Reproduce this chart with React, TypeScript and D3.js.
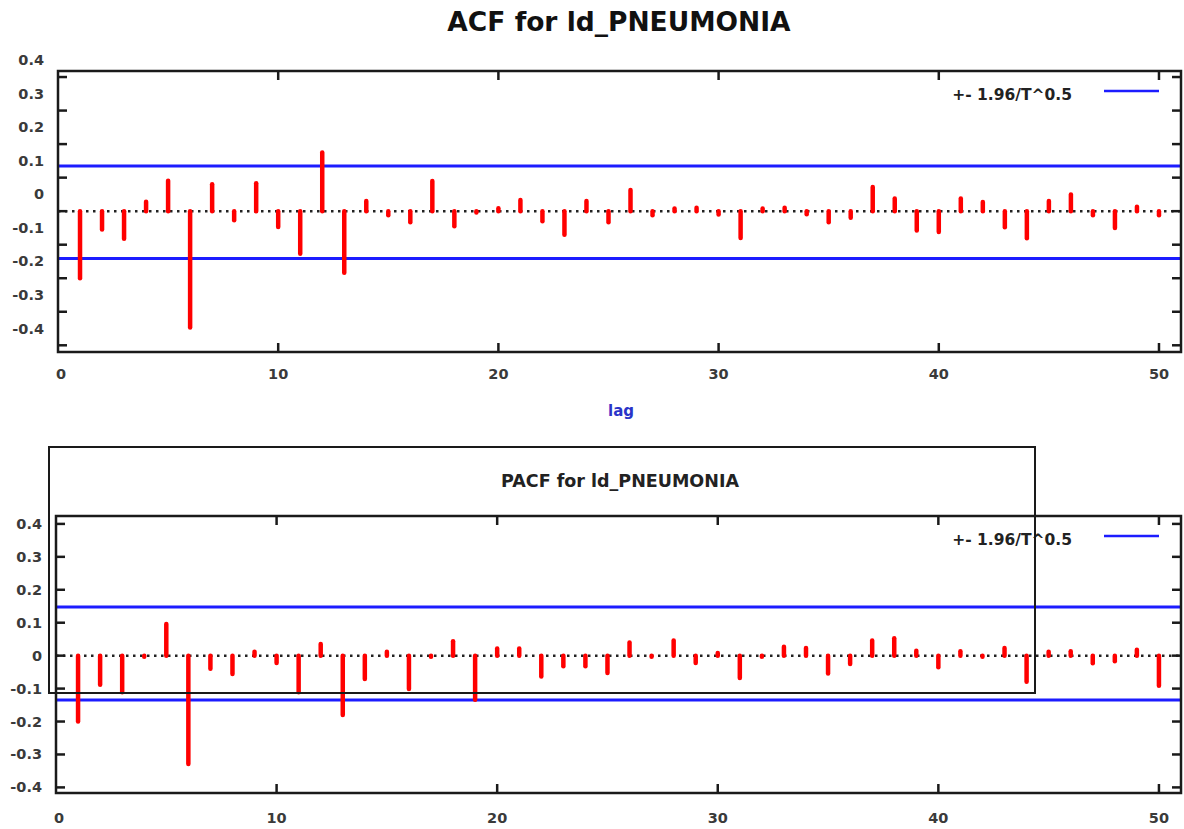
import React, { useRef, useEffect } from "react";
import * as d3 from "d3";

// lags 1..50, values
const lags = d3.range(1, 51);

const acfValues = [
  -0.2, -0.055, -0.082, 0.028, 0.091, -0.347, 0.08, -0.027, 0.083, -0.047,
  -0.127, 0.175, -0.184, 0.03, -0.012, -0.033, 0.09, -0.045, -0.004, 0.009,
  0.033, -0.03, -0.07, 0.03, -0.033, 0.063, -0.012, 0.008, 0.01, -0.01,
  -0.08, 0.008, 0.01, -0.009, -0.033, -0.02, 0.072, 0.038, -0.058, -0.062,
  0.038, 0.027, -0.048, -0.081, 0.03, 0.05, -0.012, -0.05, 0.013, -0.012,
];

const pacfValues = [
  -0.2, -0.088, -0.111, -0.003, 0.096, -0.329, -0.04, -0.056, 0.012, -0.022,
  -0.111, 0.035, -0.18, -0.071, 0.012, -0.101, -0.003, 0.044, -0.134, 0.022,
  0.022, -0.063, -0.032, -0.032, -0.053, 0.04, -0.003, 0.046, -0.022, 0.008,
  -0.068, -0.003, 0.027, 0.023, -0.054, -0.025, 0.046, 0.053, 0.015, -0.035,
  0.013, -0.003, 0.023, -0.079, 0.012, 0.013, -0.023, -0.017, 0.018, -0.091,
];

// +- 1.96/T^0.5 bands (as drawn)
const acfBand = [0.135, -0.141];
const pacfBand = [0.148, -0.135];

const yTicks = [0.4, 0.3, 0.2, 0.1, 0, -0.1, -0.2, -0.3, -0.4];
const xTicks = [0, 10, 20, 30, 40, 50];

const acfTitle = "ACF for ld_PNEUMONIA";
const pacfTitle = "PACF for ld_PNEUMONIA";
const legendLabel = "+- 1.96/T^0.5";
const xLabel = "lag";

const FONT = "'DejaVu Sans', Verdana, sans-serif";

function drawPanel(svg, opts) {
  const { values, band, left, right, top, bottom, yDomain, labelShift, tickLabelY, legendY } = opts;

  const x = d3.scaleLinear().domain([0, 51]).range([left, right]);
  const y = d3.scaleLinear().domain(yDomain).range([bottom, top]);

  const g = svg.append("g");

  // zero line (dotted)
  g.append("line")
    .attr("x1", left)
    .attr("x2", right)
    .attr("y1", y(0))
    .attr("y2", y(0))
    .attr("stroke", "#222")
    .attr("stroke-width", 2.5)
    .attr("stroke-dasharray", "2.5,4.5");

  // confidence bands
  g.selectAll(".band")
    .data(band)
    .enter()
    .append("line")
    .attr("x1", left)
    .attr("x2", right)
    .attr("y1", (d) => y(d))
    .attr("y2", (d) => y(d))
    .attr("stroke", "#1c1cff")
    .attr("stroke-width", 3);

  // stems
  g.selectAll(".stem")
    .data(values)
    .enter()
    .append("line")
    .attr("x1", (d, i) => x(lags[i]))
    .attr("x2", (d, i) => x(lags[i]))
    .attr("y1", y(0))
    .attr("y2", (d) => y(d))
    .attr("stroke", "#ff0000")
    .attr("stroke-width", 4.5)
    .attr("stroke-linecap", "round");

  // frame
  g.append("rect")
    .attr("x", left)
    .attr("y", top)
    .attr("width", right - left)
    .attr("height", bottom - top)
    .attr("fill", "none")
    .attr("stroke", "#1a1a1a")
    .attr("stroke-width", 2.5);

  // y ticks, both sides, inward
  const tl = 9;
  yTicks.forEach((t) => {
    g.append("line")
      .attr("x1", left).attr("x2", left + tl)
      .attr("y1", y(t)).attr("y2", y(t))
      .attr("stroke", "#1a1a1a").attr("stroke-width", 2.5);
    g.append("line")
      .attr("x1", right).attr("x2", right - tl)
      .attr("y1", y(t)).attr("y2", y(t))
      .attr("stroke", "#1a1a1a").attr("stroke-width", 2.5);
  });

  g.selectAll(".ylab")
    .data(yTicks)
    .enter()
    .append("text")
    .attr("x", left - 14)
    .attr("y", (d) => y(d + labelShift))
    .attr("text-anchor", "end")
    .attr("dominant-baseline", "central")
    .attr("font-family", FONT)
    .attr("font-weight", "bold")
    .attr("font-size", 14.5)
    .attr("fill", "#3a3a3a")
    .text((d) => String(d));

  // x ticks, top and bottom, inward
  xTicks.slice(1).forEach((t) => {
    g.append("line")
      .attr("x1", x(t)).attr("x2", x(t))
      .attr("y1", bottom).attr("y2", bottom - tl)
      .attr("stroke", "#1a1a1a").attr("stroke-width", 2.5);
    g.append("line")
      .attr("x1", x(t)).attr("x2", x(t))
      .attr("y1", top).attr("y2", top + tl)
      .attr("stroke", "#1a1a1a").attr("stroke-width", 2.5);
  });

  g.selectAll(".xlab")
    .data(xTicks)
    .enter()
    .append("text")
    .attr("x", (d) => x(d) + (d === 0 ? 3 : 0))
    .attr("y", tickLabelY)
    .attr("text-anchor", "middle")
    .attr("dominant-baseline", "central")
    .attr("font-family", FONT)
    .attr("font-weight", "bold")
    .attr("font-size", 14.5)
    .attr("fill", "#3a3a3a")
    .text((d) => String(d));

  // legend
  g.append("text")
    .attr("x", right - 109)
    .attr("y", legendY + 4)
    .attr("text-anchor", "end")
    .attr("dominant-baseline", "central")
    .attr("font-family", FONT)
    .attr("font-weight", "bold")
    .attr("font-size", 15.5)
    .attr("fill", "#222")
    .text(legendLabel);
  g.append("line")
    .attr("x1", right - 77)
    .attr("x2", right - 22)
    .attr("y1", legendY)
    .attr("y2", legendY)
    .attr("stroke", "#1c1cff")
    .attr("stroke-width", 2.5);
}

export default function App() {
  const ref = useRef(null);

  useEffect(() => {
    const svg = d3.select(ref.current);
    svg.selectAll("*").remove();

    svg.append("rect").attr("width", 1184).attr("height", 829).attr("fill", "#fff");

    // top: ACF
    svg.append("text")
      .attr("x", 619)
      .attr("y", 21)
      .attr("text-anchor", "middle")
      .attr("dominant-baseline", "central")
      .attr("font-family", FONT)
      .attr("font-weight", "bold")
      .attr("font-size", 26.5)
      .attr("fill", "#111")
      .text(acfTitle);

    drawPanel(svg, {
      values: acfValues,
      band: acfBand,
      left: 58,
      right: 1181,
      top: 71,
      bottom: 352,
      yDomain: [-0.42, 0.418],
      labelShift: 0.05,
      tickLabelY: 374,
      legendY: 91,
    });

    svg.append("text")
      .attr("x", 621)
      .attr("y", 411)
      .attr("text-anchor", "middle")
      .attr("dominant-baseline", "central")
      .attr("font-family", FONT)
      .attr("font-weight", "bold")
      .attr("font-size", 15)
      .attr("fill", "#2a34c8")
      .text(xLabel);

    // bottom: PACF
    drawPanel(svg, {
      values: pacfValues,
      band: pacfBand,
      left: 56,
      right: 1181,
      top: 516,
      bottom: 793,
      yDomain: [-0.417, 0.424],
      labelShift: 0,
      tickLabelY: 818,
      legendY: 536,
    });

    // overlaid box with the PACF title
    svg.append("rect")
      .attr("x", 49)
      .attr("y", 447)
      .attr("width", 986)
      .attr("height", 246)
      .attr("fill", "none")
      .attr("stroke", "#1a1a1a")
      .attr("stroke-width", 2);

    svg.append("text")
      .attr("x", 620)
      .attr("y", 481)
      .attr("text-anchor", "middle")
      .attr("dominant-baseline", "central")
      .attr("font-family", FONT)
      .attr("font-weight", "bold")
      .attr("font-size", 17.5)
      .attr("fill", "#222")
      .text(pacfTitle);
  }, []);

  return (
    <svg
      ref={ref}
      width={1184}
      height={829}
      style={{ position: "absolute", left: 0, top: 0 }}
    />
  );
}
